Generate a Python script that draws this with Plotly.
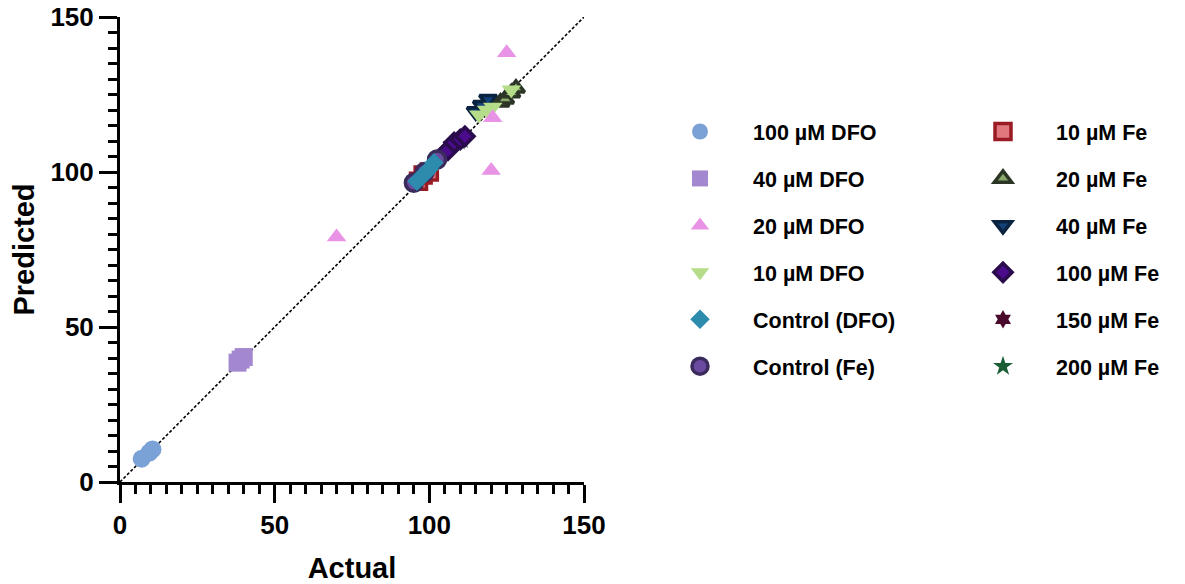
import plotly.graph_objects as go

# ---- data ----
dfo100_x = [7.0, 9.5, 10.5]
dfo100_y = [7.5, 9.5, 10.5]
dfo40_x = [38.0, 39.0, 40.0]
dfo40_y = [38.5, 39.5, 40.3]
dfo20_x = [70.0, 120.0, 120.5, 125.0]
dfo20_y = [79.0, 100.5, 117.5, 138.5]
dfo10_x = [116.0, 118.5, 120.5, 126.5]
dfo10_y = [118.5, 120.0, 121.0, 126.5]
ctrl_dfo_x = [96.0, 97.5, 99.0, 100.0, 101.5]
ctrl_dfo_y = [97.0, 98.5, 100.0, 101.0, 103.0]
ctrl_fe_x = [95.0, 98.5, 102.5]
ctrl_fe_y = [96.5, 100.0, 104.0]
fe10_x = [96.5, 98.0, 100.0]
fe10_y = [97.0, 99.0, 100.0]
fe20_x = [123.0, 124.5, 126.5, 128.0]
fe20_y = [122.5, 123.5, 125.5, 127.0]
fe40_x = [115.0, 117.0, 119.0]
fe40_y = [119.5, 121.5, 123.5]
fe100_x = [106.0, 108.0, 110.0, 111.5]
fe100_y = [107.0, 109.5, 110.5, 111.5]
fe150_x = [107.0, 109.0]
fe150_y = [108.5, 109.5]
fe200_x = [109.5, 110.5]
fe200_y = [110.0, 110.5]

identity = [0, 150]

FONT = "Liberation Sans, Arial, sans-serif"

# (name, x, y, symbol, size, fill, line color, line width, legend, rank)
series = [
    ("100 µM DFO", dfo100_x, dfo100_y, "circle", 18, "#7ba2d6", "#7ba2d6", 0, "legend", 1),
    ("40 µM DFO", dfo40_x, dfo40_y, "square", 18, "#a488cf", "#a488cf", 0, "legend", 2),
    ("20 µM DFO", dfo20_x, dfo20_y, "triangle-up", 17, "#e893e6", "#e893e6", 0, "legend", 3),
    ("10 µM DFO", dfo10_x, dfo10_y, "triangle-down", 17, "#b5dd89", "#b5dd89", 0, "legend", 4),
    ("Control (DFO)", ctrl_dfo_x, ctrl_dfo_y, "diamond", 15, "#2d8bad", "#2d8bad", 0, "legend", 5),
    ("Control (Fe)", ctrl_fe_x, ctrl_fe_y, "circle", 17, "#6b4ba0", "#3b2b5c", 3.5, "legend", 6),
    ("10 µM Fe", fe10_x, fe10_y, "square", 16, "#e0787e", "#9b1b24", 3.5, "legend2", 7),
    ("20 µM Fe", fe20_x, fe20_y, "triangle-up", 15, "#8aa86a", "#2c3627", 3.5, "legend2", 8),
    ("40 µM Fe", fe40_x, fe40_y, "triangle-down", 15, "#13427a", "#0a2440", 3.5, "legend2", 9),
    ("100 µM Fe", fe100_x, fe100_y, "diamond", 14, "#4a0c8c", "#2a0b4c", 3.5, "legend2", 10),
    ("150 µM Fe", fe150_x, fe150_y, "hexagram", 14, "#4a0a2c", "#4a0a2c", 0, "legend2", 11),
    ("200 µM Fe", fe200_x, fe200_y, "star", 15, "#1b5e36", "#1b5e36", 0, "legend2", 12),
]

fig = go.Figure()

fig.add_trace(go.Scatter(
    x=identity, y=identity, mode="lines",
    line=dict(color="black", width=1.6, dash="3px,2px"),
    showlegend=False, hoverinfo="skip",
))

# earlier series drawn on top -> add in reverse order
for name, xs, ys, sym, size, fill, lc, lw, leg, rank in reversed(series):
    fig.add_trace(go.Scatter(
        x=xs, y=ys, mode="markers", name=name,
        marker=dict(symbol=sym, size=size, color=fill,
                    line=dict(color=lc, width=lw)),
        legend=leg, legendrank=rank, legendgroup=name,
    ))

axis_common = dict(
    range=[0, 150], tickvals=[0, 50, 100, 150],
    showline=True, linecolor="black", linewidth=3,
    ticks="outside", ticklen=18, tickwidth=3, tickcolor="black",
    minor=dict(dtick=5, ticks="outside", ticklen=9, tickwidth=3, tickcolor="black"),
    showgrid=False, zeroline=False, automargin=False,
    tickfont=dict(family=FONT, size=26, color="black", weight="bold"),
)

fig.update_xaxes(**axis_common,
                 title=dict(text="Actual", standoff=22,
                            font=dict(family=FONT, size=29, color="black", weight="bold")))
fig.update_yaxes(**axis_common,
                 title=dict(text="Predicted", standoff=8,
                            font=dict(family=FONT, size=29, color="black", weight="bold")))

legend_common = dict(
    font=dict(family=FONT, size=21.5, color="black", weight="bold"),
    bgcolor="rgba(0,0,0,0)", borderwidth=0,
    itemwidth=96, tracegroupgap=16,
    xref="container", yref="container",
    xanchor="left", yanchor="top",
    traceorder="grouped",
)

fig.update_layout(
    width=1185, height=584,
    margin=dict(l=120, r=601, t=17, b=102, autoexpand=False),
    plot_bgcolor="white", paper_bgcolor="white",
    legend=dict(**legend_common, x=647 / 1185, y=1 - 111 / 584),
    legend2=dict(**legend_common, x=950 / 1185, y=1 - 111 / 584),
)

fig.write_html("out.html")
